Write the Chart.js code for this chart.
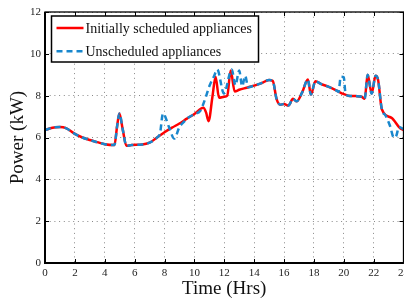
<!DOCTYPE html>
<html>
<head>
<meta charset="utf-8">
<script src="https://cdn.jsdelivr.net/npm/chart.js@4.4.0/dist/chart.umd.min.js"></script>
<style>
body { margin: 0; overflow: hidden; background: #fff; }
#wrap { position: relative; width: 420px; height: 299px; }
</style>
</head>
<body>
<div id="wrap"><canvas id="myChart"></canvas></div>
<script>
// values (hours, kW)
const seriesNames = ['Initially scheduled appliances', 'Unscheduled appliances'];

const schedHours = [0, 0.5, 1, 1.4, 2, 2.5, 3, 3.5, 4, 4.65, 4.82, 4.98, 5.2, 5.45, 5.8, 6.5, 7, 7.5, 8, 8.5,
    9, 9.5, 10, 10.6, 10.78, 10.95, 11.2, 11.42, 11.65, 12, 12.2, 12.43, 12.7, 13, 13.5, 14, 14.5, 15, 15.25,
    15.5, 15.75, 16, 16.3, 16.6, 16.85, 17.2, 17.6, 17.8, 18.1, 18.5, 19, 19.5, 19.9, 20.3, 20.8, 21.2, 21.4,
    21.6, 21.87, 22.13, 22.3, 22.55, 23.2, 23.75, 24];
const schedPower = [6.35, 6.47, 6.5, 6.45, 6.17, 6.0, 5.88, 5.78, 5.68, 5.64, 6.5, 7.15, 6.4, 5.6, 5.64, 5.66, 5.75, 6.0, 6.25, 6.47,
    6.67, 6.9, 7.12, 7.42, 7.2, 6.78, 7.9, 8.9, 7.9, 7.95, 8.0, 9.2, 8.2, 8.28, 8.38, 8.48, 8.6, 8.75, 8.7,
    7.85, 7.57, 7.6, 7.53, 7.85, 7.73, 8.13, 8.77, 8.05, 8.69, 8.55, 8.42, 8.25, 8.1, 8.0, 7.98, 7.95, 7.85,
    9.0, 8.1, 8.95, 8.75, 7.35, 6.94, 6.46, 6.35];

const unschedHours = [0, 0.5, 1, 1.4, 2, 2.5, 3, 3.5, 4, 4.65, 4.82, 4.98, 5.2, 5.45, 5.8, 6.5, 7, 7.5, 7.7, 7.9,
    8.3, 8.65, 9, 9.3, 9.5, 10, 10.4, 10.75, 11, 11.3, 11.53, 11.98, 12.5, 12.75, 13, 13.2, 13.4, 13.6, 14,
    14.5, 15, 15.25, 15.5, 15.75, 16, 16.3, 16.6, 16.85, 17.2, 17.6, 17.8, 18.1, 18.5, 19, 19.5, 19.65, 19.8,
    20, 20.12, 20.3, 20.8, 21.2, 21.4, 21.6, 21.87, 22.13, 22.3, 22.55, 22.8, 23.1, 23.35, 23.5, 23.7, 24];
const unschedPower = [6.35, 6.47, 6.5, 6.45, 6.17, 6.0, 5.88, 5.78, 5.68, 5.64, 6.5, 7.15, 6.4, 5.6, 5.64, 5.66, 5.75, 6.0, 6.2, 7.15,
    6.5, 5.95, 6.5, 6.75, 6.9, 7.12, 7.28, 7.9, 8.45, 8.9, 9.25, 8.1, 9.25, 8.5, 9.2, 8.45, 8.95, 8.4, 8.48,
    8.6, 8.75, 8.7, 7.85, 7.57, 7.6, 7.53, 7.85, 7.73, 8.13, 8.77, 8.05, 8.69, 8.55, 8.42, 8.25, 8.18, 8.9,
    8.88, 8.1, 8.0, 7.98, 7.95, 7.85, 9.0, 8.1, 8.95, 8.75, 7.35, 7.05, 6.55, 6.0, 6.05, 6.5, 6.4];

const xMin = 0, xMax = 24, xStep = 2;
const yMin = 0, yMax = 12, yStep = 2;

function toPoints(xs, ys) {
    return xs.map((x, i) => ({ x: x, y: ys[i] }));
}

const serif = "'Liberation Serif', 'Times New Roman', serif";

// box round the plot and the small inward tick marks
const framePlugin = {
    id: 'frame',
    afterDatasetsDraw(chart) {
        const { ctx, chartArea: a, scales } = chart;
        ctx.save();
        ctx.strokeStyle = '#000';
        ctx.lineWidth = 1;
        ctx.beginPath();
        for (let v = xMin; v <= xMax; v += xStep) {
            const px = Math.round(scales.x.getPixelForValue(v)) + 0.5;
            ctx.moveTo(px, a.bottom); ctx.lineTo(px, a.bottom - 4);
            ctx.moveTo(px, a.top); ctx.lineTo(px, a.top + 4);
        }
        for (let v = yMin; v <= yMax; v += yStep) {
            const py = Math.round(scales.y.getPixelForValue(v)) + 0.5;
            ctx.moveTo(a.left, py); ctx.lineTo(a.left + 4, py);
            ctx.moveTo(a.right, py); ctx.lineTo(a.right - 4, py);
        }
        ctx.stroke();
        ctx.lineWidth = 1.3;
        ctx.strokeRect(a.left, a.top, a.right - a.left, a.bottom - a.top);
        ctx.lineWidth = 2;
        ctx.beginPath();
        ctx.moveTo(a.left, a.top); ctx.lineTo(a.left, a.bottom); ctx.lineTo(a.right, a.bottom);
        ctx.stroke();
        ctx.restore();
    }
};

// legend drawn inside the plot with a boxed frame
const legendBox = {
    id: 'legendBox',
    afterDraw(chart) {
        const { ctx, chartArea: a } = chart;
        const x = a.left + 6.5, y = a.top + 4, w = 207, h = 46;
        ctx.save();
        ctx.fillStyle = '#fff';
        ctx.fillRect(x, y, w, h);
        ctx.strokeStyle = '#000';
        ctx.lineWidth = 1.5;
        ctx.strokeRect(x, y, w, h);
        chart.data.datasets.forEach((ds, i) => {
            const ly = y + 12 + i * 23.3;
            ctx.strokeStyle = ds.borderColor;
            ctx.lineWidth = ds.borderWidth;
            ctx.setLineDash(ds.borderDash || []);
            ctx.beginPath();
            ctx.moveTo(x + 5, ly); ctx.lineTo(x + 32, ly);
            ctx.stroke();
            ctx.setLineDash([]);
            ctx.fillStyle = '#111';
            ctx.font = '14px ' + serif;
            ctx.textBaseline = 'middle';
            ctx.fillText(ds.label, x + 34, ly + 1);
        });
        ctx.restore();
    }
};

const ctx = document.getElementById('myChart').getContext('2d');

new Chart(ctx, {
    type: 'line',
    data: {
        datasets: [{
            label: seriesNames[0],
            data: toPoints(schedHours, schedPower),
            borderColor: 'rgb(255, 0, 0)',
            borderWidth: 2.5,
            pointRadius: 0,
            cubicInterpolationMode: 'monotone',
            order: 2
        }, {
            label: seriesNames[1],
            data: toPoints(unschedHours, unschedPower),
            borderColor: 'rgb(25, 135, 205)',
            borderWidth: 2.5,
            borderDash: [6, 4],
            pointRadius: 0,
            cubicInterpolationMode: 'monotone',
            order: 1
        }]
    },
    options: {
        responsive: true,
        maintainAspectRatio: false,
        animation: false,
        layout: { padding: { top: 12, right: 16.5, left: 0, bottom: 0 } },
        plugins: {
            legend: { display: false },
            tooltip: { enabled: false }
        },
        scales: {
            x: {
                type: 'linear',
                min: xMin, max: xMax,
                ticks: {
                    stepSize: xStep,
                    padding: 4,
                    color: '#222',
                    font: { family: serif, size: 11 },
                    maxRotation: 0
                },
                grid: {
                    color: '#888',
                    lineWidth: 1,
                    drawTicks: false
                },
                border: { display: false, dash: [1, 3.7] },
                title: {
                    display: true,
                    text: 'Time (Hrs)',
                    color: '#111',
                    font: { family: serif, size: 19, lineHeight: 1 },
                    padding: 0
                },
                afterFit: s => { s.height = 36; }
            },
            y: {
                min: yMin, max: yMax,
                ticks: {
                    stepSize: yStep,
                    padding: 4,
                    color: '#222',
                    font: { family: serif, size: 11 }
                },
                grid: {
                    color: '#888',
                    lineWidth: 1,
                    drawTicks: false
                },
                border: { display: false, dash: [1, 3.7] },
                title: {
                    display: true,
                    text: 'Power (kW)',
                    color: '#111',
                    font: { family: serif, size: 19, lineHeight: 1 },
                    padding: { top: 9 }
                },
                afterFit: s => { s.width = 45; }
            }
        }
    },
    plugins: [framePlugin, legendBox]
});
</script>
</body>
</html>
